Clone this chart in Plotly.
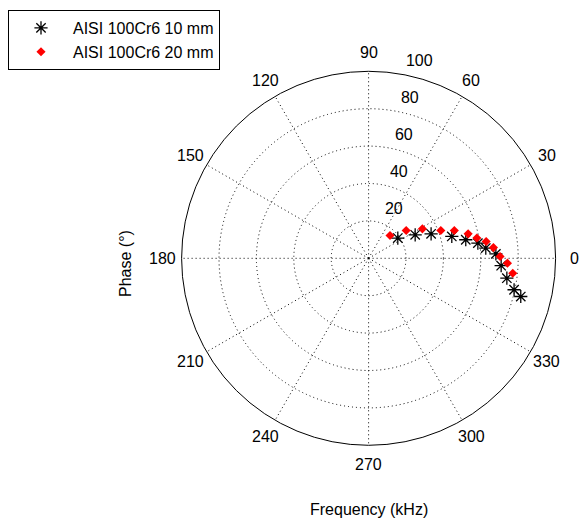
import math
import plotly.graph_objects as go

# ---- data ----
series_names = ["AISI 100Cr6 10 mm", "AISI 100Cr6 20 mm"]

r_10mm = [19.0, 27.9, 35.9, 46.0, 52.9, 59.0, 62.9, 68.1, 71.0, 74.7, 79.6, 83.9]
theta_10mm = [34.7, 26.8, 21.4, 14.7, 10.8, 7.9, 5.0, 2.0, -3.2, -8.2, -12.2, -14.1]

r_20mm = [16.7, 25.0, 32.8, 41.4, 48.2, 54.8, 58.9, 63.5, 67.0, 70.3, 74.3, 77.5]
theta_20mm = [46.7, 36.5, 28.7, 21.1, 18.0, 13.8, 10.6, 8.1, 4.9, 0.8, -2.0, -5.9]

angle_ticks = [0, 30, 60, 90, 120, 150, 180, 210, 240, 270, 300, 330]
angle_labels = ["0", "30", "60", "90", "120", "150", "180", "210", "240", "270", "300", "330"]
radial_ticks = [20, 40, 60, 80, 100]
radial_labels = ["20", "40", "60", "80", "100"]
r_max = 100

FONT = "Arial, Liberation Sans, sans-serif"
NB = "\u00a0"

fig = go.Figure()
fig.add_trace(go.Scatterpolar(
    r=r_10mm, theta=theta_10mm, mode="markers", name=series_names[0],
    legendgroup="a",
    marker=dict(symbol="asterisk-open", size=11, color="black",
                line=dict(color="black", width=1.3)),
))
fig.add_trace(go.Scatterpolar(
    r=r_20mm, theta=theta_20mm, mode="markers", name=series_names[1],
    legendgroup="b",
    marker=dict(symbol="diamond", size=7, color="red",
                line=dict(width=0)),
))

W, H = 580, 519
cx, cy, R = 368.6, 258.3, 187.0


def to_paper(r_val, ang_deg):
    rp = r_val / r_max * R
    a = math.radians(ang_deg)
    return (cx + rp * math.cos(a)) / W, 1 - (cy - rp * math.sin(a)) / H


annotations = []
# angular labels centred at 1.1 * rmax (MATLAB polar style)
for ang, lab in zip(angle_ticks, angle_labels):
    px, py = to_paper(1.1 * r_max, ang)
    annotations.append(dict(text=lab, x=px, y=py, xref="paper", yref="paper",
                            showarrow=False, xanchor="center", yanchor="middle",
                            font=dict(family=FONT, size=16, color="black")))
# radial labels along the 82 degree direction
for v, lab in zip(radial_ticks, radial_labels):
    px, py = to_paper(v + r_max / 100, 82)
    annotations.append(dict(text=NB + NB + lab, x=px, y=py, xref="paper", yref="paper",
                            showarrow=False, xanchor="left", yanchor="bottom",
                            font=dict(family=FONT, size=16, color="black")))
annotations.append(dict(text="Phase (°)", x=125 / W, y=1 - 263 / H, xref="paper", yref="paper",
                        textangle=-90, showarrow=False, xanchor="center", yanchor="middle",
                        font=dict(family=FONT, size=16, color="black")))
annotations.append(dict(text="Frequency (kHz)", x=cx / W, y=1 - 509 / H, xref="paper", yref="paper",
                        showarrow=False, xanchor="center", yanchor="middle",
                        font=dict(family=FONT, size=16, color="black")))

fig.update_layout(
    width=W, height=H,
    margin=dict(l=0, r=0, t=0, b=0),
    paper_bgcolor="white",
    plot_bgcolor="white",
    font=dict(family=FONT, size=16, color="black"),
    polar=dict(
        domain=dict(x=[(cx - R) / W, (cx + R) / W],
                    y=[(H - cy - R) / H, (H - cy + R) / H]),
        bgcolor="white",
        radialaxis=dict(
            range=[0, r_max], tickmode="array", tickvals=radial_ticks,
            showticklabels=False, angle=82,
            showline=False, ticks="", showgrid=True,
            gridcolor="black", griddash="1px,3px", gridwidth=1,
        ),
        angularaxis=dict(
            tickmode="array", tickvals=angle_ticks,
            showticklabels=False,
            direction="counterclockwise", rotation=0,
            showline=True, linecolor="black", linewidth=1,
            showgrid=True, gridcolor="black", griddash="1px,3px", gridwidth=1,
            ticks="",
        ),
    ),
    showlegend=True,
    legend=dict(
        x=8 / W, y=1 - 10 / H, xanchor="left", yanchor="top",
        bordercolor="black", borderwidth=1, bgcolor="white",
        font=dict(family=FONT, size=16, color="black"),
        traceorder="grouped", tracegroupgap=0,
        itemwidth=54,
    ),
    annotations=annotations,
)

fig.write_html("out.html", config={"displayModeBar": False},
               post_script="document.body.style.margin='0px';")
